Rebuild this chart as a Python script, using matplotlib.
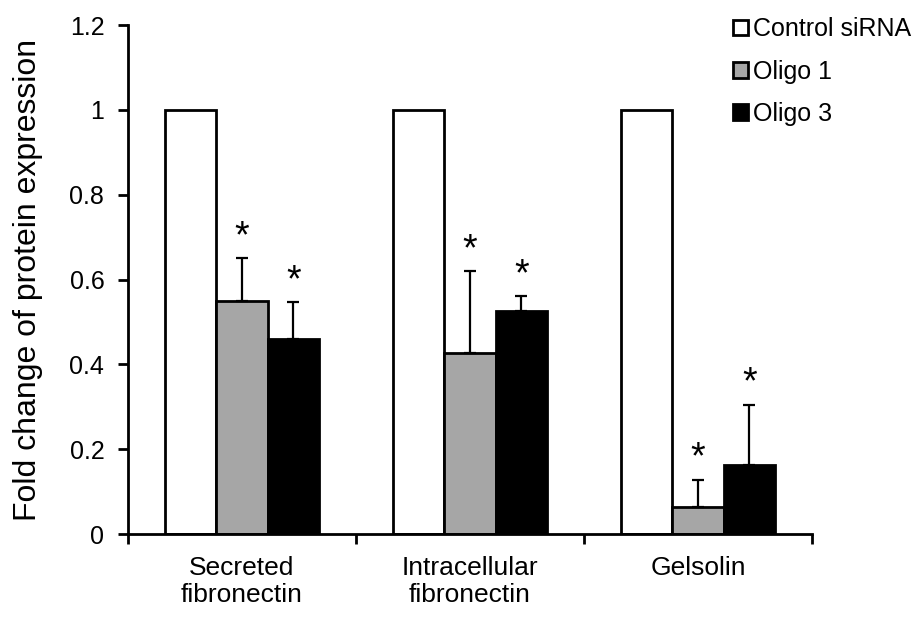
import matplotlib
matplotlib.use("Agg")
import matplotlib.pyplot as plt
import numpy as np

plt.rcParams["font.family"] = ["Liberation Sans", "DejaVu Sans"]

categories = ["Secreted\nfibronectin", "Intracellular\nfibronectin", "Gelsolin"]
series = ["Control siRNA", "Oligo 1", "Oligo 3"]
control = [1.0, 1.0, 1.0]
oligo1 = [0.55, 0.426, 0.064]
oligo3 = [0.459, 0.525, 0.162]
oligo1_err = [0.10, 0.193, 0.063]
oligo3_err = [0.087, 0.035, 0.142]
colors = ["white", "#a6a6a6", "black"]

fig = plt.figure(figsize=(9.18, 6.18), dpi=100)
ax = fig.add_axes([0.1394, 0.1359, 0.745, 0.8236])

x = np.arange(len(categories))
w = 0.226
values = [control, oligo1, oligo3]
errors = [None, oligo1_err, oligo3_err]
for i, (vals, err, c, name) in enumerate(zip(values, errors, colors, series)):
    pos = x + (i - 1) * w
    ax.bar(pos, vals, w, color=c, edgecolor="black", linewidth=2.0, label=name, zorder=2)
    if err is not None:
        ax.errorbar(pos, vals, yerr=[np.zeros(len(err)), err], fmt="none",
                    ecolor="black", elinewidth=1.6, capsize=4, capthick=1.6, zorder=3)
        for p, v, e in zip(pos, vals, err):
            ax.text(p, v + e + 0.008, "*", ha="center", va="bottom", fontsize=27)

ax.set_xlim(-0.5, 2.5)
ax.set_ylim(0, 1.2)
ax.set_yticks(np.arange(0, 1.21, 0.2))
ax.set_yticklabels(["0", "0.2", "0.4", "0.6", "0.8", "1", "1.2"])
ax.set_xticks(x)
ax.set_xticklabels(categories, linespacing=1.2)
ax.set_xticks([-0.5, 0.5, 1.5, 2.5], minor=True)
ax.tick_params(axis="x", which="major", length=0, pad=15.5, labelsize=19)
ax.tick_params(axis="x", which="minor", length=7, width=2.0, direction="out")
ax.tick_params(axis="y", length=7, width=2.0, direction="out", labelsize=18, pad=10)
ax.set_ylabel("Fold change of protein expression", fontsize=23, labelpad=19)
for s in ["top", "right"]:
    ax.spines[s].set_visible(False)
for s in ["left", "bottom"]:
    ax.spines[s].set_linewidth(2.0)

ax.legend(loc="upper left", bbox_to_anchor=(0.798, 0.972), bbox_transform=fig.transFigure,
          frameon=False, fontsize=18, handlelength=0.6, handleheight=0.6,
          handletextpad=0.2, labelspacing=0.73, borderaxespad=0, borderpad=0)

fig.savefig("out.png", dpi=100)
